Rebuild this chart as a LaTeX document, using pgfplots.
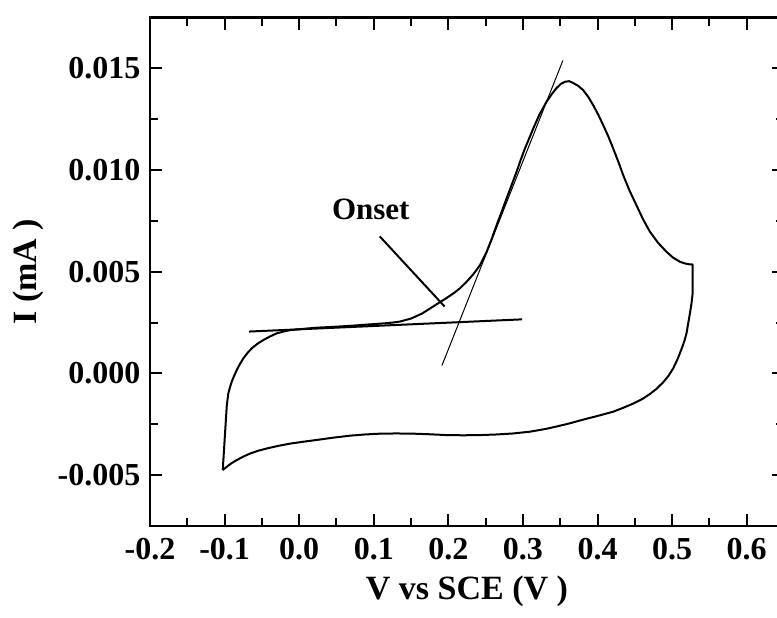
\documentclass[border=0pt]{standalone}
\usepackage{fontspec}
\setmainfont{Liberation Serif}
\usepackage{pgfplots}
\pgfplotsset{compat=1.18}
\begin{document}
\begin{tikzpicture}
\useasboundingbox (-75pt,-45.5pt) rectangle (313.5pt,263pt);
\begin{axis}[
  at={(0pt,0pt)}, anchor=south west,
  scale only axis, width=317pt, height=254.25pt,
  xmin=-0.2, xmax=0.65, ymin=-0.0075, ymax=0.0175,
  xtick={-0.2,-0.1,0,0.1,0.2,0.3,0.4,0.5,0.6},
  ytick={-0.005,0,0.005,0.010,0.015},
  minor x tick num=1, minor y tick num=1,
  scaled x ticks=false, scaled y ticks=false,
  tick align=inside,
  major tick length=6pt, minor tick length=4pt,
  every tick/.style={black, line width=1pt},
  axis line style={line width=1.3pt},
  xticklabel style={/pgf/number format/.cd, fixed, fixed zerofill, precision=1, assume math mode=true, /tikz/.cd, yshift=-2.7pt},
  yticklabel style={/pgf/number format/.cd, fixed, fixed zerofill, precision=3, assume math mode=true, /tikz/.cd, xshift=-1.3pt},
  tick label style={font=\fontsize{16}{19}\selectfont\bfseries},
  xlabel={V vs SCE (V )},
  ylabel={I (mA )},
  every axis x label/.style={at={(axis description cs:0.5,-0.0983)}, anchor=north, inner sep=0pt, font=\fontsize{17}{20}\selectfont\bfseries},
  every axis y label/.style={at={(axis description cs:-0.2161,0.5)}, anchor=north, rotate=90, inner sep=0pt, font=\fontsize{17}{20}\selectfont\bfseries},
]
% cyclic voltammogram
\addplot[black, line width=1pt, line join=round] coordinates {
(-0.1025,-0.00475) (-0.1010,-0.00390) (-0.0995,-0.00300) (-0.0982,-0.00225)
(-0.0970,-0.00156) (-0.0950,-0.00098) (-0.0925,-0.00065) (-0.0905,-0.00041)
(-0.0870,-0.00010) (-0.0838,0.00016) (-0.0795,0.00046) (-0.0749,0.00074)
(-0.0695,0.00100) (-0.0637,0.00123) (-0.0560,0.00146) (-0.0481,0.00164)
(-0.0390,0.00182) (-0.0302,0.00197) (-0.0210,0.00206) (-0.0123,0.00213)
(0.0050,0.00219) (0.0235,0.00225) (0.0450,0.00229) (0.0680,0.00234)
(0.0900,0.00240) (0.1127,0.00246) (0.1250,0.00250) (0.1350,0.00255)
(0.1500,0.00270) (0.1650,0.00295) (0.1800,0.00330) (0.1950,0.00365)
(0.2066,0.00393) (0.2160,0.00420) (0.2245,0.00451) (0.2335,0.00488)
(0.2424,0.00532) (0.2513,0.00598) (0.2580,0.00660) (0.2647,0.00729)
(0.2715,0.00795) (0.2780,0.00860) (0.2850,0.00928) (0.2915,0.00992)
(0.2970,0.01050) (0.3027,0.01106) (0.3085,0.01157) (0.3138,0.01204)
(0.3220,0.01272) (0.3317,0.01336) (0.3390,0.01375) (0.3450,0.01403)
(0.3510,0.01424) (0.3563,0.01434) (0.3620,0.01437) (0.3674,0.01428)
(0.3740,0.01414) (0.3808,0.01393) (0.3875,0.01360) (0.3942,0.01319)
(0.4010,0.01272) (0.4076,0.01221) (0.4145,0.01165) (0.4210,0.01106)
(0.4280,0.01040) (0.4344,0.00975) (0.4430,0.00898) (0.4522,0.00827)
(0.4610,0.00758) (0.4702,0.00697) (0.4810,0.00643) (0.4925,0.00598)
(0.5010,0.00570) (0.5105,0.00549) (0.5180,0.00540) (0.5240,0.00536)
(0.5275,0.00536) (0.5275,0.00393) (0.5260,0.00345) (0.5239,0.00296)
(0.5215,0.00245) (0.5194,0.00199) (0.5165,0.00160) (0.5127,0.00121)
(0.5075,0.00072) (0.5015,0.00025) (0.4950,-0.00012) (0.4881,-0.00043)
(0.4790,-0.00076) (0.4702,-0.00101) (0.4600,-0.00126) (0.4480,-0.00148)
(0.4350,-0.00168) (0.4210,-0.00188) (0.4010,-0.00208) (0.3808,-0.00227)
(0.3650,-0.00243) (0.3496,-0.00257) (0.3317,-0.00272) (0.3100,-0.00286)
(0.2870,-0.00295) (0.2650,-0.00300) (0.2424,-0.00303) (0.2200,-0.00304)
(0.1977,-0.00303) (0.1750,-0.00299) (0.1530,-0.00296) (0.1300,-0.00295)
(0.1083,-0.00296) (0.0880,-0.00300) (0.0680,-0.00306) (0.0450,-0.00316)
(0.0235,-0.00327) (0.0050,-0.00336) (-0.0123,-0.00345) (-0.0280,-0.00356)
(-0.0436,-0.00369) (-0.0550,-0.00380) (-0.0660,-0.00394) (-0.0750,-0.00409)
(-0.0838,-0.00426) (-0.0910,-0.00442) (-0.0972,-0.00459) (-0.1025,-0.00475)
};
% baseline tangent
\addplot[black, line width=1pt] coordinates {(-0.067,0.00206) (0.299,0.00266)};
% steep tangent
\addplot[black, line width=0.5pt] coordinates {(0.1914,0.00039) (0.3536,0.01539)};
% onset pointer
\addplot[black, line width=1pt] coordinates {(0.108,0.00674) (0.195,0.00329)};
\node[font=\fontsize{15.5}{18}\selectfont\bfseries] at (axis cs:0.096,0.00806) {Onset};
\end{axis}
\end{tikzpicture}
\end{document}
